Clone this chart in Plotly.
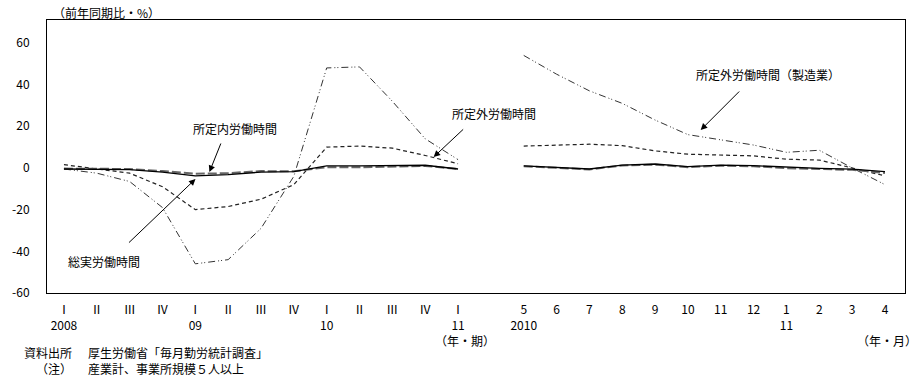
import plotly.graph_objects as go

# ---- data ----
quarter_labels = ["Ⅰ", "Ⅱ", "Ⅲ", "Ⅳ", "Ⅰ", "Ⅱ", "Ⅲ", "Ⅳ", "Ⅰ", "Ⅱ", "Ⅲ", "Ⅳ", "Ⅰ"]
quarter_years = ["2008", "", "", "", "09", "", "", "", "10", "", "", "", "11"]
month_labels = ["5", "6", "7", "8", "9", "10", "11", "12", "1", "2", "3", "4"]
month_years = ["2010", "", "", "", "", "", "", "", "11", "", "", ""]

# quarterly (2008 I - 2011 I)
total_q = [-0.5, -0.8, -0.8, -2.0, -3.8, -3.2, -2.0, -1.8, 1.0, 1.0, 1.0, 1.3, -0.5]
sched_q = [-0.3, -0.5, -0.5, -1.5, -2.8, -2.5, -1.5, -1.6, 0.4, 0.3, 0.5, 1.0, -0.5]
over_q = [1.6, -0.5, -2.5, -9.0, -20.0, -18.5, -15.0, -8.0, 10.0, 10.5, 9.5, 6.0, 2.0]
manuf_q = [-0.5, -2.5, -6.5, -19.0, -46.0, -44.0, -29.0, -4.0, 48.0, 48.5, 32.0, 14.0, 4.0]

# monthly (2010/5 - 2011/4)
total_m = [1.0, 0.3, -0.5, 1.4, 1.9, 0.6, 1.4, 1.1, 0.3, -0.2, -0.6, -1.8]
sched_m = [0.8, 0.2, -0.7, 1.2, 1.6, 0.4, 1.1, 0.8, -0.1, -0.5, -0.9, -2.4]
over_m = [10.5, 10.9, 11.4, 10.7, 8.2, 6.6, 6.2, 5.8, 4.2, 3.8, 0.0, -3.8]
manuf_m = [54.0, 45.0, 37.0, 31.0, 23.0, 16.0, 13.5, 11.0, 7.5, 8.5, 0.0, -8.0]

y_ticks = [60, 40, 20, 0, -20, -40, -60]

# ---- layout helpers ----
W, H = 921, 390
L, R, T, B = 44, 905, 20, 293
FONT = "Noto Sans CJK JP"


def px(x):
    return (x - L) / (R - L)


def py(y):
    return (B - y) / (B - T)


nq = len(quarter_labels)
gap = 1
x_plot = list(range(nq)) + [nq] + [nq + gap + i for i in range(len(month_labels))]


def join(q, m):
    return q + [None] + m


fig = go.Figure()

series = [
    ("所定外労働時間（製造業）", join(manuf_q, manuf_m), dict(color="#333333", width=1, dash="7px,3px,1px,2px,1px,3px")),
    ("所定外労働時間", join(over_q, over_m), dict(color="#222222", width=1.2, dash="4px,3px")),
    ("所定内労働時間", join(sched_q, sched_m), dict(color="#666666", width=2, dash="9px,3px")),
    ("総実労働時間", join(total_q, total_m), dict(color="#000000", width=1.3, dash="solid")),
]
for name, ys, line in series:
    fig.add_trace(go.Scatter(x=x_plot, y=ys, mode="lines", name=name, line=line,
                             connectgaps=False, showlegend=False, hoverinfo="skip"))

tickvals = list(range(nq)) + [nq + gap + i for i in range(len(month_labels))]
ticktext = [f"{a}<br>{b}" if b else f"{a}<br> " for a, b in zip(quarter_labels + month_labels, quarter_years + month_years)]

fig.update_xaxes(range=[-0.516, 25.61], tickvals=tickvals, ticktext=ticktext, showgrid=False,
                 zeroline=False, showline=True, linecolor="black", linewidth=1, mirror=True,
                 ticks="", tickfont=dict(family=FONT, size=12, color="black"), ticklabelstandoff=6)
fig.update_yaxes(range=[-60, 71], tickvals=y_ticks, ticktext=[str(v) for v in y_ticks], showgrid=False,
                 zeroline=False, showline=True, linecolor="black", linewidth=1, mirror=True,
                 ticks="", tickfont=dict(family=FONT, size=12, color="black"), ticklabelstandoff=14)

ann = []
# axis unit labels
ann.append(dict(text="（前年同期比・%）", x=px(48), y=py(12), xref="paper", yref="paper",
                xanchor="left", yanchor="middle", showarrow=False))
ann.append(dict(text="（年・期）", x=px(463), y=py(340), xref="paper", yref="paper",
                xanchor="center", yanchor="middle", showarrow=False))
ann.append(dict(text="（年・月）", x=px(887), y=py(340), xref="paper", yref="paper",
                xanchor="center", yanchor="middle", showarrow=False))
# notes
ann.append(dict(text="資料出所<br>（注）", x=px(71), y=py(360), xref="paper", yref="paper",
                xanchor="right", yanchor="middle", align="right", showarrow=False))
ann.append(dict(text="厚生労働省「毎月勤労統計調査」<br>産業計、事業所規模５人以上", x=px(83), y=py(360),
                xref="paper", yref="paper", xanchor="left", yanchor="middle", align="left", showarrow=False))

# series labels
labels = [
    ("所定内労働時間", 233, 128),
    ("総実労働時間", 101, 261),
    ("所定外労働時間", 493, 113),
    ("所定外労働時間（製造業）", 768, 75),
]
for t, x, y in labels:
    ann.append(dict(text=t, x=px(x), y=py(y), xref="paper", yref="paper",
                    xanchor="center", yanchor="middle", showarrow=False))

# arrows: (head x,y in pixels) -> (tail x,y)
arrows = [
    ((207, 172), (219, 142)),
    ((193, 179), (125, 244)),
    ((432, 157), (463, 128)),
    ((700, 130), (740, 90)),
]
for (hx, hy), (tx, ty) in arrows:
    ann.append(dict(text="", x=px(hx), y=py(hy), xref="paper", yref="paper",
                    ax=tx - hx, ay=ty - hy, showarrow=True, arrowhead=2, arrowsize=1.3,
                    arrowwidth=1, arrowcolor="black"))

fig.update_layout(width=W, height=H, margin=dict(l=L, r=W - R, t=T, b=H - B),
                  paper_bgcolor="white", plot_bgcolor="white",
                  font=dict(family=FONT, size=12, color="black"),
                  annotations=ann)

fig.write_html("out.html", config={"displayModeBar": False},
               post_script="document.body.style.margin='0px';document.body.style.padding='0px';")
